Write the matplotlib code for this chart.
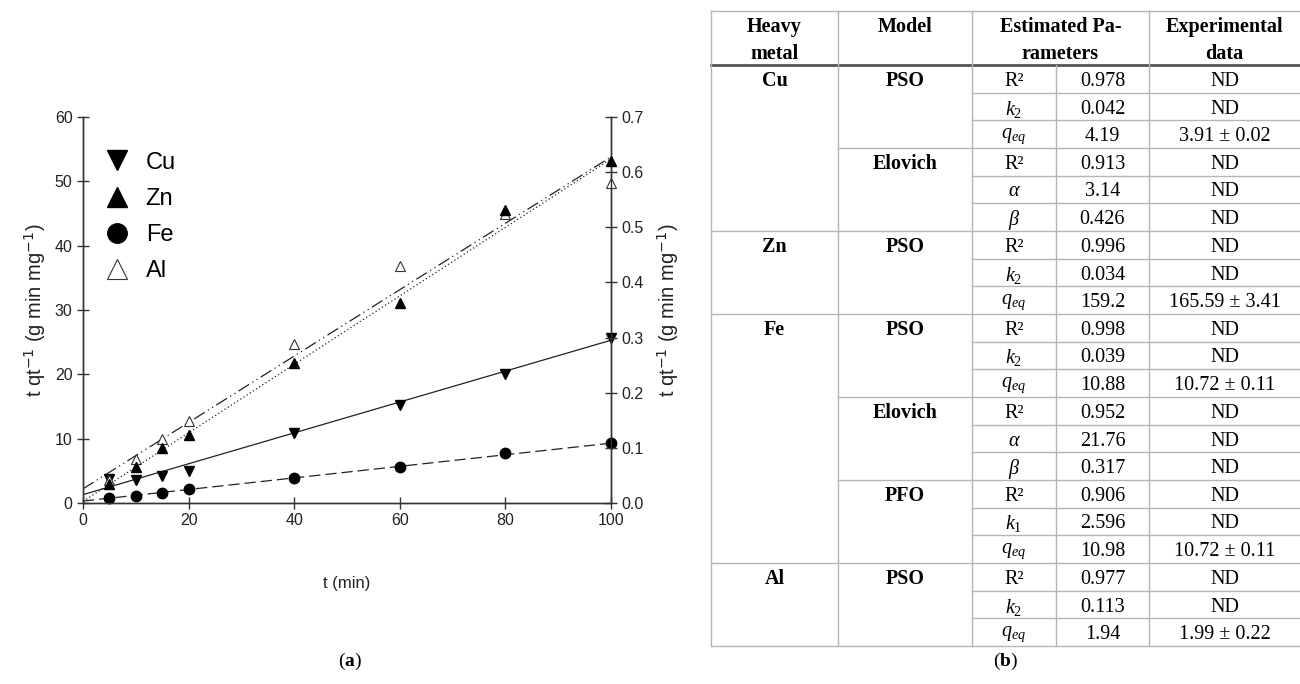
import numpy as np
import matplotlib.pyplot as plt
from matplotlib.lines import Line2D

plt.rcParams['mathtext.fontset'] = 'custom'
plt.rcParams['mathtext.rm'] = 'Liberation Serif'
plt.rcParams['mathtext.it'] = 'Liberation Serif:italic'
plt.rcParams['mathtext.bf'] = 'Liberation Serif:bold'

# ---- chart data ----
t = [5, 10, 15, 20, 40, 60, 80, 100]
cu = [3.7, 3.5, 4.2, 5.0, 10.9, 15.3, 20.1, 25.7]
fe = [0.7, 1.1, 1.6, 2.1, 3.9, 5.6, 7.7, 9.4]
al = [3.5, 6.8, 9.9, 12.7, 24.7, 36.9, 45.0, 49.7]
zn = [0.035, 0.065, 0.099, 0.1225, 0.254, 0.363, 0.531, 0.62]  # right axis

fit_t = [0, 100]
cu_fit = [1.3, 25.3]
fe_fit = [0.3, 9.3]
al_fit = [2.2, 53.8]
zn_fit = [0.003, 0.624]

# ---- table data ----
metals = ['Cu', 'Zn', 'Fe', 'Al']
metal_rows = [6, 3, 9, 3]
models = ['PSO', 'Elovich', 'PSO', 'PSO', 'Elovich', 'PFO', 'PSO']
params = ['R²', '$k_2$', '$q_{eq}$', 'R²', r'$\alpha$', r'$\beta$',
          'R²', '$k_2$', '$q_{eq}$',
          'R²', '$k_2$', '$q_{eq}$', 'R²', r'$\alpha$', r'$\beta$', 'R²', '$k_1$', '$q_{eq}$',
          'R²', '$k_2$', '$q_{eq}$']
values = ['0.978', '0.042', '4.19', '0.913', '3.14', '0.426',
          '0.996', '0.034', '159.2',
          '0.998', '0.039', '10.88', '0.952', '21.76', '0.317', '0.906', '2.596', '10.98',
          '0.977', '0.113', '1.94']
experimental = ['ND', 'ND', '3.91 ± 0.02', 'ND', 'ND', 'ND',
                'ND', 'ND', '165.59 ± 3.41',
                'ND', 'ND', '10.72 ± 0.11', 'ND', 'ND', 'ND', 'ND', 'ND', '10.72 ± 0.11',
                'ND', 'ND', '1.99 ± 0.22']

W, H = 1300, 684
fig = plt.figure(figsize=(13, 6.84), dpi=100)

# ---------------- chart (a) ----------------
sans = ['Liberation Sans', 'DejaVu Sans']
ax = fig.add_axes([83 / W, 1 - 503 / H, (611 - 83) / W, (503 - 117) / H])
ax2 = ax.twinx()

lw = 0.9
ax.plot(fit_t, cu_fit, color='#222', lw=lw, ls='-')
ax.plot(fit_t, fe_fit, color='#222', lw=lw, ls=(0, (9, 4)))
ax.plot(fit_t, al_fit, color='#222', lw=lw, ls=(0, (10, 3, 1, 3, 1, 3)))
ax2.plot(fit_t, zn_fit, color='#222', lw=lw, ls=(0, (1, 2)))

ms = 7.5
ax.plot(t, cu, 'v', color='black', ms=ms, ls='none', clip_on=False, zorder=5)
ax.plot(t, fe, 'o', color='black', ms=ms, ls='none', clip_on=False, zorder=5)
ax.plot(t, al, '^', mfc='white', mec='#333', mew=0.8, ms=ms, ls='none', clip_on=False, zorder=6)
ax2.plot(t, zn, '^', color='black', ms=ms, ls='none', clip_on=False, zorder=5)

ax.set_xlim(0, 100)
ax.set_ylim(0, 60)
ax2.set_ylim(0, 0.7)
ax.set_xticks([0, 20, 40, 60, 80, 100])
ax.set_yticks([0, 10, 20, 30, 40, 50, 60])
ax2.set_yticks([0, 0.1, 0.2, 0.3, 0.4, 0.5, 0.6, 0.7])
ax2.set_yticklabels(['0.0', '0.1', '0.2', '0.3', '0.4', '0.5', '0.6', '0.7'])

for a in (ax, ax2):
    a.spines['top'].set_visible(False)
    for s in a.spines.values():
        s.set_color('#333')
        s.set_linewidth(1)
    a.tick_params(direction='inout', length=8, width=1, color='#333',
                  labelsize=11.5, labelcolor='#222')
    for lab in a.get_xticklabels() + a.get_yticklabels():
        lab.set_family(sans)

ax.set_xlabel('t (min)', fontsize=12, family=sans, color='#222', labelpad=34)
ax.set_ylabel('t qt$^{-1}$ (g min mg$^{-1}$)', fontsize=14.5, family=sans, color='#222', labelpad=5)
ax2.set_ylabel('t qt$^{-1}$ (g min mg$^{-1}$)', fontsize=14.5, family=sans, color='#222', labelpad=8)
for lab in (ax.yaxis.label, ax2.yaxis.label):
    lab.set_math_fontfamily('dejavusans')

handles = [Line2D([], [], marker='v', color='black', ls='none', ms=14),
           Line2D([], [], marker='^', color='black', ls='none', ms=14),
           Line2D([], [], marker='o', color='black', ls='none', ms=14),
           Line2D([], [], marker='^', mfc='white', mec='#333', mew=0.8, ls='none', ms=14)]
ax.legend(handles, metals[:1] + ['Zn', 'Fe', 'Al'], loc='upper left',
          bbox_to_anchor=(-0.02, 0.965), frameon=False, handletextpad=0.2,
          labelspacing=0.6, prop={'family': ['Liberation Sans Narrow', 'Liberation Sans'], 'size': 17})

fig.text(350 / W, 1 - 661 / H, r'($\mathbf{a}$)', ha='center', va='center',
         fontsize=14, family='Liberation Serif')

# ---------------- table (b) ----------------
tb = fig.add_axes([0, 0, 1, 1], zorder=-1)
tb.set_xlim(0, W)
tb.set_ylim(H, 0)
tb.axis('off')

cols = [711, 838, 972, 1056, 1149, 1300]
top = 11
head_bot = 65
row_h = (646 - head_bot) / len(values)
grid = '#b5b5b5'
serif = 'Liberation Serif'
fs = 14.5
dy = 2.5  # text sits a bit low in its cell

tb.plot([cols[0], W], [top, top], color=grid, lw=1)
tb.plot([cols[0], W], [head_bot, head_bot], color='#555', lw=2)
for x in [cols[0], cols[1], cols[2], cols[4]]:
    tb.plot([x, x], [top, 646], color=grid, lw=1)
tb.plot([cols[3], cols[3]], [head_bot, 646], color=grid, lw=1)

# header
hy1, hy2 = 27, 54
hdr = dict(ha='center', va='center', fontsize=fs, fontweight='bold', family=serif)
tb.text((cols[0] + cols[1]) / 2, hy1, 'Heavy', **hdr)
tb.text((cols[0] + cols[1]) / 2, hy2, 'metal', **hdr)
tb.text((cols[1] + cols[2]) / 2, hy1, 'Model', **hdr)
tb.text((cols[2] + cols[4]) / 2, hy1, 'Estimated Pa-', **hdr)
tb.text((cols[2] + cols[4]) / 2, hy2, 'rameters', **hdr)
tb.text((cols[4] + cols[5]) / 2, hy1, 'Experimental', **hdr)
tb.text((cols[4] + cols[5]) / 2, hy2, 'data', **hdr)

# body rows
for i in range(len(values)):
    y0 = head_bot + i * row_h
    yc = y0 + row_h / 2 + dy
    if i > 0:
        tb.plot([cols[2], W], [y0, y0], color=grid, lw=1)
    tb.text((cols[2] + cols[3]) / 2, yc, params[i], ha='center', va='center', fontsize=fs, family=serif)
    tb.text((cols[3] + cols[4]) / 2, yc, values[i], ha='center', va='center', fontsize=fs, family=serif)
    tb.text((cols[4] + cols[5]) / 2, yc, experimental[i], ha='center', va='center', fontsize=fs, family=serif)

# model groups (3 rows each)
for j, m in enumerate(models):
    y0 = head_bot + 3 * j * row_h
    tb.text((cols[1] + cols[2]) / 2, y0 + row_h / 2 + dy, m, **hdr)
    if j > 0:
        tb.plot([cols[1], cols[2]], [y0, y0], color=grid, lw=1)

# metal groups
start = 0
for m, n in zip(metals, metal_rows):
    y0 = head_bot + start * row_h
    tb.text((cols[0] + cols[1]) / 2, y0 + row_h / 2 + dy, m, **hdr)
    if start > 0:
        tb.plot([cols[0], cols[1]], [y0, y0], color=grid, lw=1)
    start += n
tb.plot([cols[0], W], [646, 646], color=grid, lw=1)

tb.text(1006, 661, r'($\mathbf{b}$)', ha='center', va='center', fontsize=14, family=serif)

fig.savefig('out.png', dpi=100)
